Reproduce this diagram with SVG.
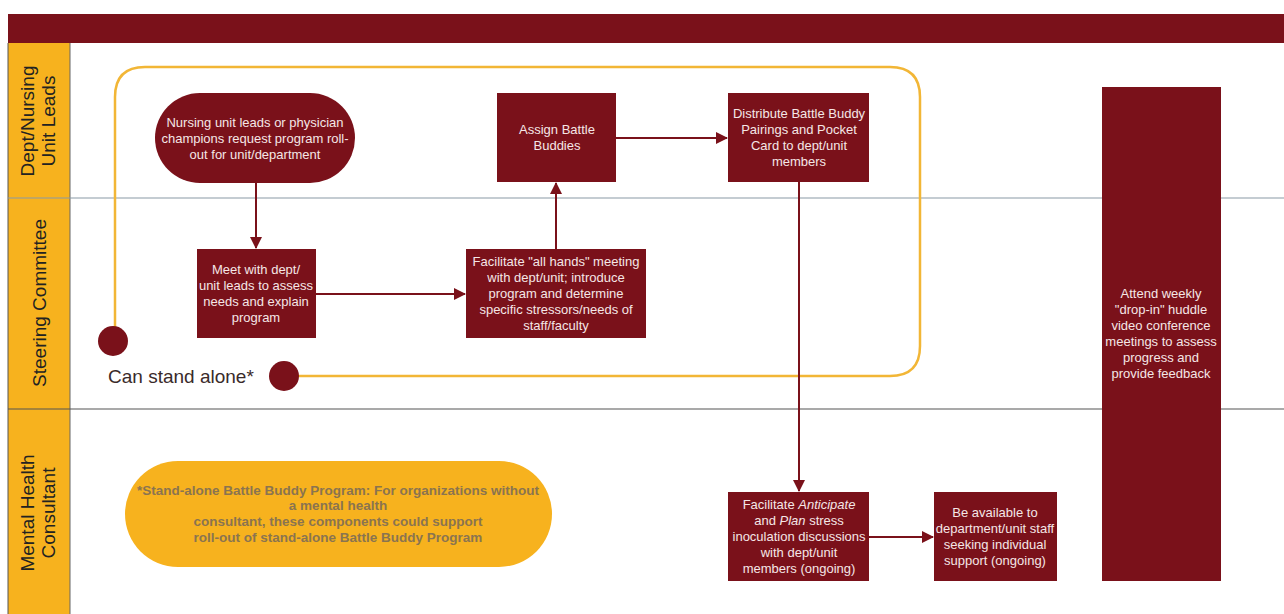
<svg xmlns="http://www.w3.org/2000/svg" width="1284" height="614" viewBox="0 0 1284 614">
<style>
.node{fill:#7a111a}
.nt{font-family:"Liberation Sans",Arial,sans-serif;font-size:13px;fill:#f5e6e6;text-anchor:middle}
.lane{font-family:"Liberation Sans",Arial,sans-serif;font-size:19px;fill:#222;text-anchor:middle}
.conn{stroke:#7a111a;stroke-width:2;fill:none}
.note{font-family:"Liberation Sans",Arial,sans-serif;font-size:13.5px;font-weight:bold;fill:#8a7450;text-anchor:middle}
</style>
<defs>
<marker id="arr" markerWidth="12" markerHeight="12" refX="11" refY="6" orient="auto" markerUnits="userSpaceOnUse">
<path d="M0,0 L12,6 L0,12 Z" fill="#7a111a"/>
</marker>
</defs>
<rect width="1284" height="614" fill="#ffffff"/>
<g id="header"><rect x="8" y="14" width="1276" height="29" fill="#7a111a"/></g>
<g id="lanes">
<rect x="8" y="43" width="62" height="571" fill="#f7b21e"/>
<line x1="8" y1="43" x2="8" y2="614" stroke="#555" stroke-width="1"/>
<line x1="70" y1="43" x2="70" y2="614" stroke="#666" stroke-width="1"/>
<line x1="8" y1="198" x2="1284" y2="198" stroke="#8a99a6" stroke-width="1.2"/>
<line x1="8" y1="409" x2="1284" y2="409" stroke="#555" stroke-width="1.2"/>
<text class="lane" transform="translate(39,121) rotate(-90)"><tspan x="0" y="-5">Dept/Nursing</tspan><tspan x="0" y="16">Unit Leads</tspan></text>
<text class="lane" transform="translate(46,303) rotate(-90)">Steering Committee</text>
<text class="lane" transform="translate(39,513) rotate(-90)"><tspan x="0" y="-5">Mental Health</tspan><tspan x="0" y="16">Consultant</tspan></text>
</g>
<g id="standalone-loop">
<path d="M115,330 V97 Q115,67 145,67 H890 Q920,67 920,97 V346 Q920,376 890,376 H297" fill="none" stroke="#f2b636" stroke-width="2.5"/>
<circle cx="113" cy="341" r="15" fill="#7a111a"/>
<circle cx="284" cy="376" r="15" fill="#7a111a"/>
<text x="108" y="383" font-family="'Liberation Sans',Arial,sans-serif" font-size="19" fill="#3a2a2a">Can stand alone*</text>
</g>
<g id="connectors">
<line class="conn" x1="256" y1="183" x2="256" y2="248" marker-end="url(#arr)"/>
<line class="conn" x1="316" y1="294" x2="465" y2="294" marker-end="url(#arr)"/>
<line class="conn" x1="556" y1="249" x2="556" y2="183" marker-end="url(#arr)"/>
<line class="conn" x1="616" y1="138" x2="727" y2="138" marker-end="url(#arr)"/>
<line class="conn" x1="799" y1="182" x2="799" y2="491" marker-end="url(#arr)"/>
<line class="conn" x1="869" y1="537" x2="933" y2="537" marker-end="url(#arr)"/>
</g>
<g id="n1">
<rect class="node" x="155" y="93" width="200" height="90" rx="45"/>
<text class="nt"><tspan x="255" y="127">Nursing unit leads or physician</tspan><tspan x="255" y="143">champions request program roll-</tspan><tspan x="255" y="159">out for unit/department</tspan></text>
</g>
<g id="n2">
<rect class="node" x="497" y="93" width="119" height="89"/>
<text class="nt"><tspan x="557" y="134">Assign Battle</tspan><tspan x="557" y="150">Buddies</tspan></text>
</g>
<g id="n3">
<rect class="node" x="728" y="93" width="141" height="89"/>
<text class="nt"><tspan x="799" y="118">Distribute Battle Buddy</tspan><tspan x="799" y="134">Pairings and Pocket</tspan><tspan x="799" y="150">Card to dept/unit</tspan><tspan x="799" y="166">members</tspan></text>
</g>
<g id="n4">
<rect class="node" x="197" y="249" width="119" height="89"/>
<text class="nt"><tspan x="256" y="274">Meet with dept/</tspan><tspan x="256" y="290">unit leads to assess</tspan><tspan x="256" y="306">needs and explain</tspan><tspan x="256" y="322">program</tspan></text>
</g>
<g id="n5">
<rect class="node" x="466" y="249" width="180" height="89"/>
<text class="nt"><tspan x="556" y="266">Facilitate "all hands" meeting</tspan><tspan x="556" y="282">with dept/unit; introduce</tspan><tspan x="556" y="298">program and determine</tspan><tspan x="556" y="314">specific stressors/needs of</tspan><tspan x="556" y="330">staff/faculty</tspan></text>
</g>
<g id="n6">
<rect class="node" x="728" y="492" width="141" height="89"/>
<text class="nt"><tspan x="799" y="509">Facilitate <tspan font-style="italic">Anticipate</tspan></tspan><tspan x="799" y="525">and <tspan font-style="italic">Plan</tspan> stress</tspan><tspan x="799" y="541">inoculation discussions</tspan><tspan x="799" y="557">with dept/unit</tspan><tspan x="799" y="573">members (ongoing)</tspan></text>
</g>
<g id="n7">
<rect class="node" x="934" y="492" width="123" height="89"/>
<text class="nt"><tspan x="995" y="517">Be available to</tspan><tspan x="995" y="533">department/unit staff</tspan><tspan x="995" y="549">seeking individual</tspan><tspan x="995" y="565">support (ongoing)</tspan></text>
</g>
<g id="n8">
<rect class="node" x="1102" y="87" width="119" height="494"/>
<text class="nt"><tspan x="1161" y="298">Attend weekly</tspan><tspan x="1161" y="314">"drop-in" huddle</tspan><tspan x="1161" y="330">video conference</tspan><tspan x="1161" y="346">meetings to assess</tspan><tspan x="1161" y="362">progress and</tspan><tspan x="1161" y="378">provide feedback</tspan></text>
</g>
<g id="note">
<rect x="125" y="461" width="427" height="106" rx="53" fill="#f7b21e"/>
<text class="note"><tspan x="338" y="495">*Stand-alone Battle Buddy Program: For organizations without</tspan><tspan x="338" y="510">a mental health</tspan><tspan x="338" y="526">consultant, these components could support</tspan><tspan x="338" y="542">roll-out of stand-alone Battle Buddy Program</tspan></text>
</g>
</svg>
